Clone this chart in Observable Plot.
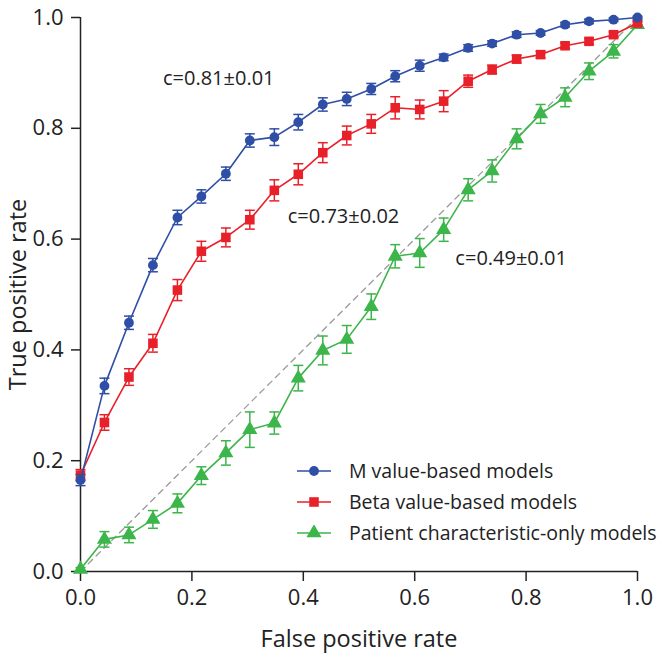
<!DOCTYPE html>
<html><head><meta charset="utf-8">
<script src="https://cdn.jsdelivr.net/npm/d3@7"></script>
<script src="https://cdn.jsdelivr.net/npm/@observablehq/plot@0.6"></script>
<style>
body{margin:0;background:#fff;}
#chart{position:relative;width:663px;height:658px;font-family:"Open Sans",sans-serif;}
#legend{position:absolute;left:297px;top:455px;font-size:19.5px;color:#222;}
#legend .row{height:31px;display:flex;align-items:center;white-space:nowrap;}
#legend svg{margin-right:18px;}
</style>
</head><body><div id="chart"></div>
<script>
// ---- data ----
const fpr = [0, 0.043, 0.087, 0.130, 0.174, 0.217, 0.261, 0.304, 0.348, 0.391, 0.435, 0.478,
             0.522, 0.565, 0.609, 0.652, 0.696, 0.739, 0.783, 0.826, 0.870, 0.913, 0.957, 1.0];
const seriesNames = ["M value-based models", "Beta value-based models", "Patient characteristic-only models"];
const mTpr = [0.165,0.335,0.449,0.553,0.639,0.677,0.718,0.778,0.784,0.811,0.843,0.853,
              0.871,0.894,0.913,0.928,0.945,0.953,0.969,0.972,0.987,0.993,0.996,1.0];
const mErr = [0.010,0.014,0.012,0.012,0.013,0.012,0.012,0.012,0.015,0.014,0.012,0.012,
              0.010,0.010,0.010,0.006,0.006,0.005,0.005,0.004,0.004,0.004,0.003,0.002];
const betaTpr = [0.174,0.269,0.351,0.412,0.508,0.578,0.603,0.635,0.688,0.717,0.756,0.787,
                 0.808,0.837,0.834,0.849,0.885,0.906,0.925,0.933,0.949,0.957,0.969,0.990];
const betaErr = [0.010,0.014,0.015,0.016,0.019,0.018,0.017,0.017,0.019,0.019,0.018,0.017,
                 0.017,0.020,0.017,0.019,0.011,0.008,0.007,0.006,0.005,0.005,0.005,0.004];
const patTpr = [0.004,0.058,0.066,0.094,0.123,0.173,0.214,0.256,0.268,0.349,0.399,0.419,
                0.478,0.569,0.575,0.617,0.689,0.723,0.781,0.826,0.856,0.903,0.939,0.987];
const patErr = [0.003,0.014,0.014,0.016,0.017,0.016,0.022,0.032,0.020,0.023,0.026,0.025,
                0.023,0.021,0.026,0.021,0.020,0.020,0.018,0.017,0.017,0.015,0.012,0.005];
const cLabels = ["c=0.81±0.01", "c=0.73±0.02", "c=0.49±0.01"];
const axisTicks = [0, 0.2, 0.4, 0.6, 0.8, 1.0];
const chanceLine = [0, 1];

// ---- styles / layout ----
const colors = ["#2f4ea6", "#e8202a", "#3cb54a"];
const symbols = ["circle", "square", "triangle"];
const radii = [4.9, 5.4, 5.6];
const annX = [0.148, 0.372, 0.673];
const annY = [0.89, 0.64, 0.565];

const tables = [
  fpr.map((x, i) => ({x, y: mTpr[i], e: mErr[i]})),
  fpr.map((x, i) => ({x, y: betaTpr[i], e: betaErr[i]})),
  fpr.map((x, i) => ({x, y: patTpr[i], e: patErr[i]}))
];
const cap = {draw(ctx) { ctx.moveTo(-5, 0); ctx.lineTo(5, 0); }};

const seriesMarks = [];
for (const k of [2, 1, 0]) {
  const t = tables[k], c = colors[k];
  seriesMarks.push(
    Plot.line(t, {x: "x", y: "y", stroke: c, strokeWidth: 1.6}),
    Plot.ruleX(t, {x: "x", y1: d => d.y - d.e, y2: d => d.y + d.e, stroke: c, strokeWidth: 1.5}),
    Plot.dot(t, {x: "x", y: d => d.y + d.e, symbol: cap, fill: "none", stroke: c, strokeWidth: 1.5}),
    Plot.dot(t, {x: "x", y: d => d.y - d.e, symbol: cap, fill: "none", stroke: c, strokeWidth: 1.5}),
    Plot.dot(t, {x: "x", y: "y", symbol: symbols[k], r: radii[k], fill: c, stroke: "none"})
  );
}

const chart = Plot.plot({
  width: 663, height: 658,
  marginLeft: 80, marginRight: 26, marginTop: 17, marginBottom: 87,
  style: {fontFamily: "'Open Sans', sans-serif", fontSize: "22px", color: "#222", background: "#fff"},
  x: {domain: [0, 1]},
  y: {domain: [0, 1]},
  marks: [
    Plot.line(chanceLine, {x: d => d, y: d => d, stroke: "#9a9a9a", strokeWidth: 1.3, strokeDasharray: "6,5"}),
    Plot.axisX({ticks: axisTicks, tickFormat: ".1f", tickSize: 10, tickPadding: 8, label: null, fontSize: 22, stroke: "#222", strokeWidth: 1.5}),
    Plot.axisY({ticks: axisTicks, tickFormat: ".1f", tickSize: 9, tickPadding: 8, label: null, fontSize: 22, stroke: "#222", strokeWidth: 1.5}),
    Plot.ruleY([0], {stroke: "#222", strokeWidth: 1.5}),
    Plot.ruleX([0], {stroke: "#222", strokeWidth: 1.5}),
    Plot.text(["False positive rate"], {text: d => d, frameAnchor: "bottom", textAnchor: "middle", dy: 75, fontSize: 23.5, fill: "#222"}),
    Plot.text(["True positive rate"], {text: d => d, frameAnchor: "left", textAnchor: "middle", dx: -62, rotate: -90, fontSize: 23.5, fill: "#222"}),
    Plot.text(cLabels, {x: (d, i) => annX[i], y: (d, i) => annY[i], text: d => d, textAnchor: "start", fontSize: 20, fill: "#222"}),
    ...seriesMarks
  ]
});
const root = document.getElementById("chart");
root.appendChild(chart);

// legend overlay
const legend = d3.select(root).append("div").attr("id", "legend");
seriesNames.forEach((name, k) => {
  const row = legend.append("div").attr("class", "row");
  const s = row.append("svg").attr("width", 34).attr("height", 16);
  s.append("line").attr("x1", 0).attr("x2", 34).attr("y1", 8).attr("y2", 8)
    .attr("stroke", colors[k]).attr("stroke-width", 1.6);
  s.append("path").attr("transform", "translate(17,8)")
    .attr("d", d3.symbol(d3["symbol" + symbols[k][0].toUpperCase() + symbols[k].slice(1)], Math.PI * radii[k] * radii[k])())
    .attr("fill", colors[k]);
  row.append("span").text(name);
});
</script>
</body></html>
